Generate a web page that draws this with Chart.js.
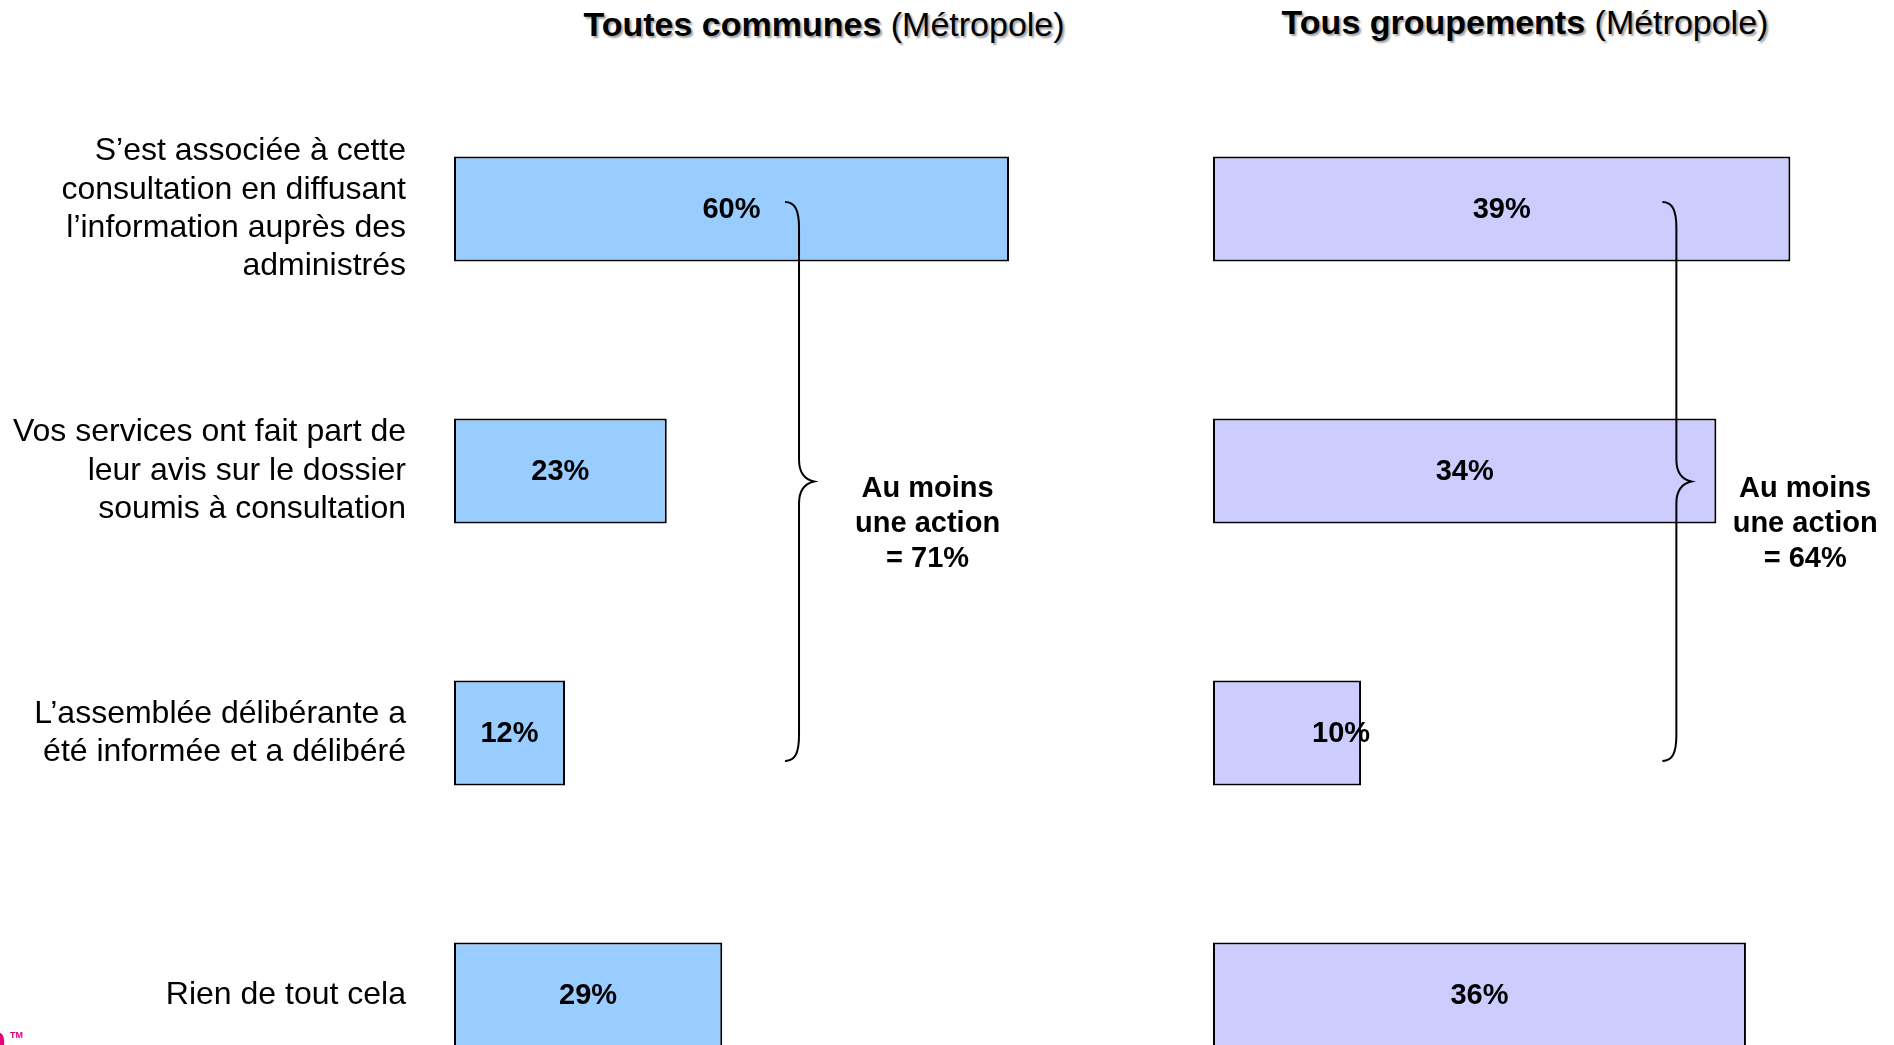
<!DOCTYPE html>
<html lang="fr">
<head>
<meta charset="utf-8">
<title>Consultation - communes et groupements</title>
<script src="https://cdn.jsdelivr.net/npm/chart.js@4.4.1/dist/chart.umd.min.js"></script>
<style>
  html, body { margin: 0; padding: 0; background: #fff; }
  body {
    width: 1894px; height: 1045px; overflow: hidden; position: relative;
    font-family: "Liberation Sans", Arial, sans-serif;
  }
  .titre {
    position: absolute; width: 800px; text-align: center;
    font-size: 34px; line-height: 40px; color: #000; white-space: nowrap;
    text-shadow: 2px 2px 2px #a0a0a0;
  }
  canvas { position: absolute; top: 0; }
  #logo { position: absolute; left: -20px; top: 1016px; color: #e6007e; font: bold 44px "Liberation Sans", Arial, sans-serif; }
  #logo sup { font-size: 9px; vertical-align: top; position: relative; top: 14px; left: 3px; }
</style>
</head>
<body>
<div class="titre" style="left:424px; top:4px;"><b>Toutes communes</b> (Métropole)</div>
<div class="titre" style="left:1125px; top:2px;"><b>Tous groupements</b> (Métropole)</div>
<canvas id="chart-communes" width="1194" height="1130" style="left:0;"></canvas>
<canvas id="chart-groupements" width="691" height="1130" style="left:1203px;"></canvas>
<div id="logo">n<sup>TM</sup></div>

<script>
const FONT = '"Liberation Sans", Arial, sans-serif';

// Réponses (une ligne par libellé)
const categories = [
  ['S’est associée à cette', 'consultation en diffusant', 'l’information auprès des', 'administrés'],
  ['Vos services ont fait part de', 'leur avis sur le dossier', 'soumis à consultation'],
  ['L’assemblée délibérante a', 'été informée et a délibéré'],
  ['Rien de tout cela']
];

// Pourcentages
const communesValues = [60, 23, 12, 29];
const groupementsValues = [39, 34, 10, 36];

// Au moins une action
const communesTotal = 71;
const groupementsTotal = 64;

// Étiquettes de valeur au centre des barres
const valueLabels = {
  id: 'valueLabels',
  afterDatasetsDraw(chart, args, opts) {
    const ctx = chart.ctx;
    const meta = chart.getDatasetMeta(0);
    const data = chart.data.datasets[0].data;
    ctx.save();
    ctx.font = 'bold 29px ' + FONT;
    ctx.fillStyle = '#000';
    ctx.textAlign = 'center';
    ctx.textBaseline = 'middle';
    meta.data.forEach((bar, i) => {
      const shift = (opts.shift && opts.shift[i]) || 0;
      ctx.fillText(data[i] + '%', (bar.base + bar.x) / 2 + shift, bar.y + 1);
    });
    ctx.restore();
  }
};

// Accolade + total "au moins une action"
const accolade = {
  id: 'accolade',
  afterDraw(chart, args, opts) {
    const ctx = chart.ctx;
    const xs = chart.scales.x;
    const ys = chart.scales.y;
    const x = xs.getPixelForValue(opts.braceAt);
    const top = ys.getPixelForValue(0) - 7;
    const bottom = ys.getPixelForValue(2) + 28;
    const mid = (top + bottom) / 2;

    ctx.save();
    ctx.strokeStyle = '#000';
    ctx.lineWidth = 2;
    ctx.beginPath();
    ctx.moveTo(x - 14, top);
    ctx.bezierCurveTo(x - 4, top, x, top + 8, x, top + 26);
    ctx.lineTo(x, mid - 22);
    ctx.bezierCurveTo(x, mid - 8, x + 6, mid - 2, x + 15, mid);
    ctx.bezierCurveTo(x + 6, mid + 2, x, mid + 8, x, mid + 22);
    ctx.lineTo(x, bottom - 26);
    ctx.bezierCurveTo(x, bottom - 8, x - 4, bottom, x - 14, bottom);
    ctx.stroke();

    ctx.font = 'bold 29px ' + FONT;
    ctx.fillStyle = '#000';
    ctx.textAlign = 'center';
    ctx.textBaseline = 'middle';
    const tx = xs.getPixelForValue(opts.textAt);
    ['Au moins', 'une action', '= ' + opts.total + '%'].forEach((line, i) => {
      ctx.fillText(line, tx, mid + 7 + i * 35);
    });
    ctx.restore();
  }
};

function makeChart(id, values, color, xMax, showLabels, braceAt, textAt, total, shift) {
  return new Chart(document.getElementById(id), {
    type: 'bar',
    data: {
      labels: categories,
      datasets: [{
        data: values,
        backgroundColor: color,
        borderColor: '#000',
        borderWidth: 2,
        borderSkipped: false,
        categoryPercentage: 1,
        barPercentage: 0.4
      }]
    },
    options: {
      indexAxis: 'y',
      responsive: false,
      animation: false,
      devicePixelRatio: 1,
      events: [],
      layout: { padding: { top: 78, bottom: 4, left: showLabels ? 0 : 10, right: 0 } },
      scales: {
        x: { display: false, min: 0, max: xMax },
        y: {
          display: showLabels,
          offset: true,
          grid: { display: false, drawTicks: false },
          border: { display: false },
          ticks: {
            color: '#000',
            padding: 48,
            font: { size: 32, family: FONT, lineHeight: 1.2 }
          },
          afterFit(scale) {
            if (!showLabels) return;
            scale.width = 454;
            // les libellés ne doivent pas réduire la zone des barres
            scale.paddingTop = 0;
            scale.paddingBottom = 0;
          }
        }
      },
      plugins: {
        legend: { display: false },
        tooltip: { enabled: false },
        valueLabels: { shift },
        accolade: { braceAt, textAt, total }
      }
    },
    plugins: [valueLabels, accolade]
  });
}

makeChart('chart-communes', communesValues, '#99CCFF', 80, true, 37.3, 51.2, communesTotal, [0, 0, 0, 0]);
makeChart('chart-groupements', groupementsValues, '#CCCCFF', 46, false, 31.3, 40, groupementsTotal, [0, 0, 54, 0]);
</script>
</body>
</html>
